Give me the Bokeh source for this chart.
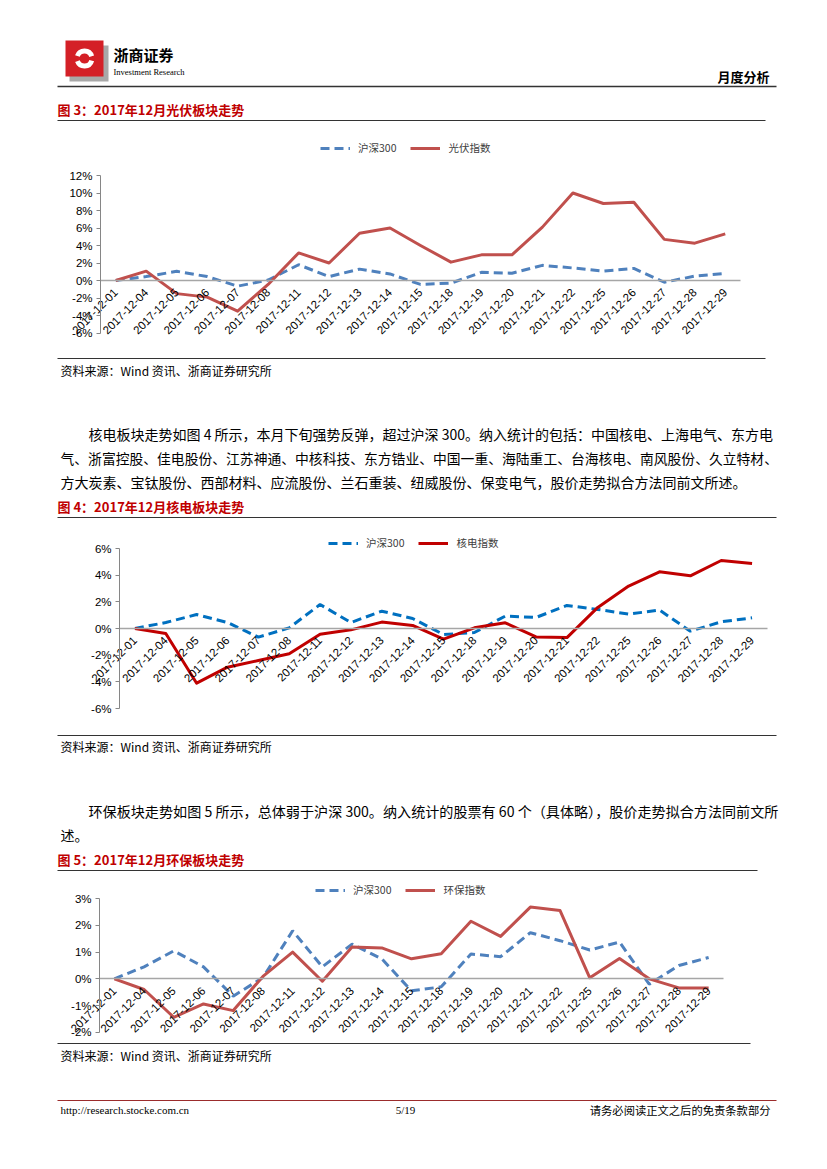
import math
from bokeh.plotting import figure
from bokeh.models import (Range1d, FixedTicker, PrintfTickFormatter,
                          Legend, LegendItem, ColumnDataSource)
from bokeh.layouts import column
from bokeh.embed import file_html
from bokeh.resources import INLINE
from bokeh.core.properties import value

# ---------------- data ----------------
dates = ["2017-12-01", "2017-12-04", "2017-12-05", "2017-12-06", "2017-12-07",
         "2017-12-08", "2017-12-11", "2017-12-12", "2017-12-13", "2017-12-14",
         "2017-12-15", "2017-12-18", "2017-12-19", "2017-12-20", "2017-12-21",
         "2017-12-22", "2017-12-25", "2017-12-26", "2017-12-27", "2017-12-28",
         "2017-12-29"]
hs300 = [0, 0.45, 1.05, 0.45, -0.65, 0.05, 1.8, 0.45, 1.3, 0.75, -0.45, -0.3,
         0.93, 0.83, 1.73, 1.43, 1.08, 1.38, -0.2, 0.5, 0.8]
pv_index = [0, 1.07, -1.5, -1.9, -3.5, -0.45, 3.15, 2.0, 5.4, 6.0, 4.0, 2.1,
            2.93, 2.93, 6.1, 10.0, 8.8, 8.95, 4.7, 4.27, 5.33]
nuclear_index = [0, -0.37, -4.1, -2.9, -2.4, -1.9, -0.43, -0.1, 0.48, 0.23, -0.8,
                 0.05, 0.43, -0.63, -0.68, 1.58, 3.18, 4.25, 3.95, 5.1, 4.88]
env_index = [0, -0.4, -1.44, -0.94, -1.19, 0.09, 1.0, -0.09, 1.19, 1.16, 0.75,
             0.94, 2.16, 1.59, 2.69, 2.56, 0.04, 0.76, 0.0, -0.34, -0.34]
ticks1 = [-6, -4, -2, 0, 2, 4, 6, 8, 10, 12]
ticks2 = [-6, -4, -2, 0, 2, 4, 6]
ticks3 = [-2, -1, 0, 1, 2, 3]

CJK = "Noto Sans CJK SC"
TITLE_RED = "#C00000"
W = 827


def page_fig(y0, y1):
    p = figure(width=W, height=int(y1 - y0), x_range=Range1d(0, W),
               y_range=Range1d(y1, y0), output_backend="svg", toolbar_location=None,
               min_border=0, x_axis_location=None, y_axis_location=None)
    p.xgrid.visible = False
    p.ygrid.visible = False
    p.outline_line_color = None
    return p


def txt(p, x, y, s, size, color="#000000", font=CJK, style="normal", align="left"):
    p.text(x=[x], y=[y], text=[s], text_font=value(font), text_font_size=f"{size}px",
           text_color=color, text_font_style=style, text_align=align,
           text_baseline="middle")


def hline(p, y, x0, x1, color="#333333", width=1.2):
    p.segment(x0=[x0], y0=[y], x1=[x1], y1=[y], line_color=color, line_width=width)


def chart(idx_vals, idx_name, red, blue, ticks, fy0, fy1, top_px, bot_px,
          left_px, right_px, legend_x, legend_cy):
    # pixel mapping of the axis extent (layout only)
    lo, hi = ticks[0], ticks[-1]
    ppu = (bot_px - top_px) / (hi - lo)
    y_top = hi + (top_px - fy0) / ppu
    y_bot = lo - (fy1 - bot_px) / ppu
    n = len(dates)
    cw = (right_px - left_px) / n
    x_start = (0 - left_px) / cw - 0.5
    x_end = (W - left_px) / cw - 0.5
    p = figure(width=W, height=int(fy1 - fy0), x_range=Range1d(x_start, x_end),
               y_range=Range1d(y_bot, y_top), output_backend="svg",
               toolbar_location=None, min_border=0,
               x_axis_location="below", y_axis_location="left")
    p.xgrid.visible = False
    p.ygrid.visible = False
    p.outline_line_color = None
    pos = list(range(n))
    src = ColumnDataSource(dict(pos=pos, hs=hs300, idx=idx_vals))
    r1 = p.line("pos", "hs", source=src, line_color=blue, line_width=3,
                line_dash="9 5")
    r2 = p.line("pos", "idx", source=src, line_color=red, line_width=3,
                line_join="round")
    xa = p.xaxis[0]
    xa.fixed_location = 0
    xa.bounds = (-0.5, n - 0.5)
    xa.ticker = FixedTicker(ticks=pos, minor_ticks=[])
    xa.major_label_overrides = {i: d for i, d in enumerate(dates)}
    xa.major_label_orientation = math.pi / 4
    xa.major_tick_line_color = None
    xa.minor_tick_line_color = None
    xa.axis_line_color = "#a6a6a6"
    xa.axis_line_width = 1.3
    xa.major_label_text_font = "Liberation Sans"
    xa.major_label_text_font_size = "11.5px"
    xa.major_label_text_color = "#000000"
    xa.major_label_standoff = 4
    ya = p.yaxis[0]
    ya.fixed_location = -0.5
    ya.ticker = FixedTicker(ticks=ticks, minor_ticks=[])
    ya.formatter = PrintfTickFormatter(format="%d%%")
    ya.bounds = (lo, hi)
    ya.axis_line_color = "#868686"
    ya.major_tick_line_color = "#868686"
    ya.major_tick_in = 0
    ya.major_tick_out = 4
    ya.minor_tick_line_color = None
    ya.major_label_text_font = "Liberation Sans"
    ya.major_label_text_font_size = "11.5px"
    ya.major_label_text_color = "#000000"
    ya.major_label_standoff = 4
    leg = Legend(items=[LegendItem(label="沪深300", renderers=[r1]),
                        LegendItem(label=idx_name, renderers=[r2])],
                 orientation="horizontal",
                 location=(legend_x, int(fy1 - (legend_cy + 7))),
                 padding=0, margin=0,
                 spacing=14, glyph_width=30, glyph_height=14, label_height=14,
                 label_standoff=8, label_text_font=CJK,
                 label_text_font_size="10.5px", label_text_color="#404040",
                 border_line_alpha=0, background_fill_alpha=0)
    p.add_layout(leg, "center")
    return p


# ---------------- header (page y 0..125) ----------------
pA = page_fig(0, 125)
pA.quad(left=[69], right=[108], top=[45], bottom=[81], fill_color="#a8a8a8",
        line_color=None)
pA.quad(left=[65], right=[103], top=[40], bottom=[76], fill_color="#d42027",
        line_color=None)
pA.annular_wedge(x=[84], y=[58], inner_radius=5, outer_radius=10,
                 start_angle=0.3, end_angle=2.8, fill_color="white", line_color=None)
pA.annular_wedge(x=[84], y=[58], inner_radius=5, outer_radius=10,
                 start_angle=3.5, end_angle=6.0, fill_color="white", line_color=None)
txt(pA, 113, 54, "浙商证券", 15, style="bold")
txt(pA, 113, 71, "Investment Research", 8.5, font="Liberation Serif")
txt(pA, 769, 76, "月度分析", 13, style="bold", align="right")
hline(pA, 86, 57, 776, "#333333", 1.5)
txt(pA, 57, 109, "图 3：2017年12月光伏板块走势", 13, color=TITLE_RED, style="bold")
hline(pA, 120, 57, 765, "#333333", 1.2)

# ---------------- chart 1 (page y 125..355) ----------------
pB = chart(pv_index, "光伏指数", "#C0504D", "#4F81BD", ticks1, 125, 355,
           175, 332.5, 100, 740, 320, 148)

# ---------------- text (page y 355..525) ----------------
pC = page_fig(355, 525)
hline(pC, 358, 57, 765, "#333333", 1.2)
txt(pC, 60, 370, "资料来源：Wind 资讯、浙商证券研究所", 12)
txt(pC, 88, 433, "核电板块走势如图 4 所示，本月下旬强势反弹，超过沪深 300。纳入统计的包括：中国核电、上海电气、东方电", 14)
txt(pC, 60, 457, "气、浙富控股、佳电股份、江苏神通、中核科技、东方锆业、中国一重、海陆重工、台海核电、南风股份、久立特材、", 13.8)
txt(pC, 60, 481, "方大炭素、宝钛股份、西部材料、应流股份、兰石重装、纽威股份、保变电气，股价走势拟合方法同前文所述。", 14)
txt(pC, 57, 506, "图 4：2017年12月核电板块走势", 13, color=TITLE_RED, style="bold")
hline(pC, 517, 57, 776, "#333333", 1.2)

# ---------------- chart 2 (page y 525..732) ----------------
pD = chart(nuclear_index, "核电指数", "#C00000", "#0070C0", ticks2, 525, 732,
           548, 708, 119, 767, 328, 543)

# ---------------- text (page y 732..873) ----------------
pE = page_fig(732, 873)
hline(pE, 735, 57, 776, "#333333", 1.2)
txt(pE, 60, 746, "资料来源：Wind 资讯、浙商证券研究所", 12)
txt(pE, 88, 810, "环保板块走势如图 5 所示，总体弱于沪深 300。纳入统计的股票有 60 个（具体略），股价走势拟合方法同前文所", 14.1)
txt(pE, 60, 834, "述。", 14)
txt(pE, 57, 859, "图 5：2017年12月环保板块走势", 13, color=TITLE_RED, style="bold")
hline(pE, 870, 57, 757, "#333333", 1.2)

# ---------------- chart 3 (page y 873..1040) ----------------
pF = chart(env_index, "环保指数", "#C0504D", "#4F81BD", ticks3, 873, 1040,
           898.3, 1031.7, 99, 723, 315, 890)

# ---------------- footer (page y 1040..1165) ----------------
pG = page_fig(1040, 1165)
hline(pG, 1043, 57, 750, "#333333", 1.2)
txt(pG, 60, 1055, "资料来源：Wind 资讯、浙商证券研究所", 12)
hline(pG, 1100, 57, 776, "#9B2C2C", 1.0)
txt(pG, 60, 1109, "http://research.stocke.com.cn", 11, font="Liberation Serif")
txt(pG, 405, 1109, "5/19", 11, font="Liberation Serif", align="center")
txt(pG, 770, 1109, "请务必阅读正文之后的免责条款部分", 11.3, align="right")

layout = column(pA, pB, pC, pD, pE, pF, pG, spacing=0)
open("out.html", "w").write(file_html(layout, INLINE))
